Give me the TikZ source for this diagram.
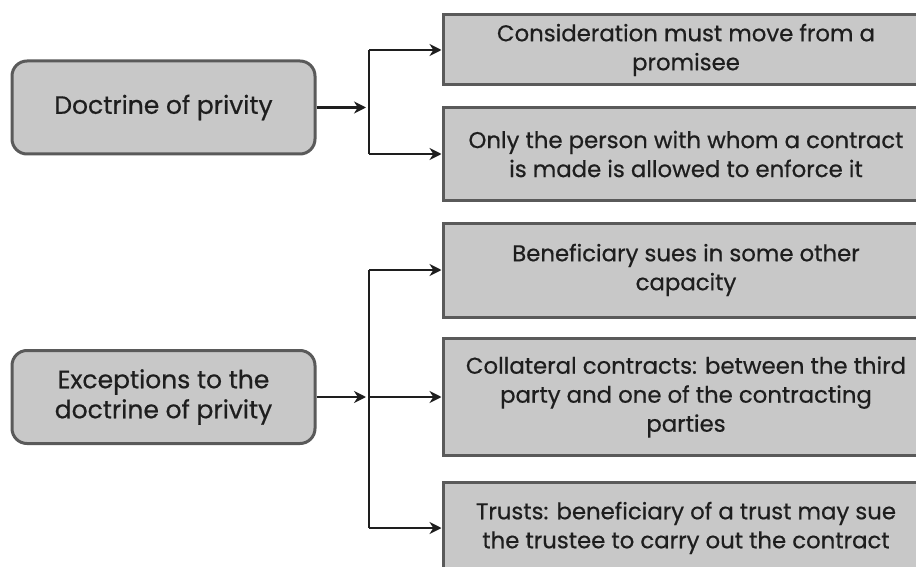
\documentclass[tikz,border=0pt]{standalone}
\usepackage{fontspec}
\setmainfont{Poppins}[FakeBold=0.6]
\usetikzlibrary{arrows.meta}
\definecolor{boxfill}{RGB}{200,200,200}
\definecolor{boxline}{RGB}{90,90,90}
\definecolor{ink}{RGB}{30,30,30}
\begin{document}
\begin{tikzpicture}[x=1pt,y=-1pt,
  leftbox/.style={draw=boxline, fill=boxfill, line width=3pt, rounded corners=15pt,
    minimum width=303pt, minimum height=93pt, align=center, inner sep=0pt,
    text=ink, font=\fontsize{25}{30}\selectfont},
  rightbox/.style={draw=boxline, fill=boxfill, line width=3pt,
    minimum width=486pt, align=center, inner sep=0pt,
    text=ink, font=\fontsize{22.8}{29}\selectfont},
  link/.style={line width=2.2pt, draw=ink, -{Stealth[length=12pt,width=12pt]}},
  bar/.style={line width=2.2pt, draw=ink}]
\path[use as bounding box, clip] (0,0) rectangle (916,567);
\fill[white] (0,0) rectangle (916,567);

% left-hand headings
\node[leftbox] (dp) at (163.5,107.5) {Doctrine of privity};
\node[leftbox] (ex) at (163.5,397) {Exceptions to the\\doctrine of privity};

% right-hand statements
\node[rightbox, minimum height=70pt] (r1) at (686,50) {Consideration must move from a\\promisee};
\node[rightbox, minimum height=92pt] (r2) at (686,154) {Only the person with whom a contract\\is made is allowed to enforce it};
\node[rightbox, minimum height=94pt] (r3) at (686,270) {Beneficiary sues in some other\\capacity};
\node[rightbox, minimum height=117pt] (r4) at (686,397) {Collateral contracts: between the third\\party and one of the contracting\\parties};
\node[rightbox, minimum height=92pt] (r5) at (686,528) {Trusts: beneficiary of a trust may sue\\the trustee to carry out the contract};

% branch points, level with each heading
\coordinate (bx) at (369,0);
\coordinate (j1) at (dp.east -| bx);
\coordinate (j2) at (ex.east -| bx);

% upper group
\draw[link] (dp.east) -- ([xshift=-3pt]j1);
\draw[bar] (j1 |- r1.west) -- (j1 |- r2.west);
\draw[link] (j1 |- r1.west) -- (r1.west);
\draw[link] (j1 |- r2.west) -- (r2.west);

% lower group
\draw[link] (ex.east) -- ([xshift=-3pt]j2);
\draw[bar] (j2 |- r3.west) -- (j2 |- r5.west);
\draw[link] (j2 |- r3.west) -- (r3.west);
\draw[link] (j2) -- (r4.west);
\draw[link] (j2 |- r5.west) -- (r5.west);
\end{tikzpicture}
\end{document}
